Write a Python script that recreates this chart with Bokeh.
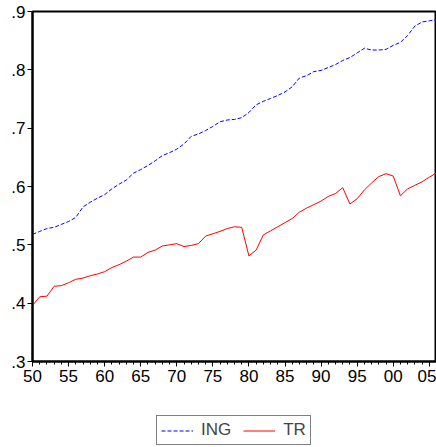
from bokeh.plotting import figure
from bokeh.models import FixedTicker, Legend, LegendItem, Range1d
from bokeh.layouts import column
from bokeh.embed import file_html
from bokeh.resources import INLINE

years = list(range(1950, 2007))
ing = [0.518, 0.523, 0.528, 0.530, 0.535, 0.540, 0.547, 0.565, 0.573, 0.580,
       0.586, 0.596, 0.604, 0.611, 0.623, 0.629, 0.636, 0.644, 0.653, 0.658,
       0.664, 0.673, 0.686, 0.690, 0.696, 0.703, 0.711, 0.714, 0.715, 0.718,
       0.727, 0.740, 0.746, 0.751, 0.756, 0.762, 0.771, 0.786, 0.790, 0.797,
       0.799, 0.804, 0.809, 0.816, 0.821, 0.829, 0.837, 0.834, 0.834, 0.835,
       0.842, 0.847, 0.859, 0.875, 0.882, 0.884, 0.886]
tr = [0.396, 0.411, 0.412, 0.429, 0.430, 0.435, 0.441, 0.443, 0.447, 0.450,
      0.454, 0.461, 0.466, 0.472, 0.479, 0.479, 0.487, 0.491, 0.498, 0.500,
      0.502, 0.497, 0.499, 0.502, 0.515, 0.519, 0.523, 0.528, 0.531, 0.530,
      0.481, 0.491, 0.517, 0.524, 0.531, 0.538, 0.545, 0.556, 0.563, 0.569,
      0.575, 0.583, 0.588, 0.598, 0.570, 0.579, 0.594, 0.606, 0.617, 0.622,
      0.618, 0.584, 0.596, 0.602, 0.608, 0.616, 0.623]
x_ticks = [1950, 1955, 1960, 1965, 1970, 1975, 1980, 1985, 1990, 1995, 2000, 2005]
x_tick_labels = ["50", "55", "60", "65", "70", "75", "80", "85", "90", "95", "00", "05"]
y_ticks = [0.3, 0.4, 0.5, 0.6, 0.7, 0.8, 0.9]
y_tick_labels = [".3", ".4", ".5", ".6", ".7", ".8", ".9"]
series_names = ["ING", "TR"]
series_values = [ing, tr]
series_colors = ["#0000ff", "#ff0000"]
series_dashes = ["4 2", "solid"]

FONT = "Liberation Sans"

p = figure(width=436, height=395, output_backend="svg", toolbar_location=None,
           x_range=Range1d(1950, 2006), y_range=Range1d(0.3, 0.9),
           min_border_left=32, min_border_right=0, min_border_top=11,
           min_border_bottom=34)
p.grid.visible = False
p.outline_line_color = "black"
p.outline_line_width = 2

for vals, col, dash in zip(series_values, series_colors, series_dashes):
    p.line(years, vals, line_color=col, line_width=1, line_dash=dash)

xa = p.xaxis[0]
xa.ticker = FixedTicker(ticks=x_ticks, minor_ticks=years)
xa.major_label_overrides = dict(zip(x_ticks, x_tick_labels))
ya = p.yaxis[0]
ya.ticker = FixedTicker(ticks=y_ticks, minor_ticks=[])
ya.major_label_overrides = dict(zip(y_ticks, y_tick_labels))

for ax in (xa, ya):
    ax.axis_line_width = 2
    ax.axis_line_color = "black"
    ax.major_tick_line_color = "black"
    ax.minor_tick_line_color = "black"
    ax.major_tick_in = 0
    ax.minor_tick_in = 0
    ax.major_label_text_font = FONT
    ax.major_label_text_font_size = "17px"
    ax.major_label_text_color = "black"
xa.major_tick_out = 5
xa.minor_tick_out = 3
xa.major_label_standoff = 3
ya.major_tick_out = 5
ya.minor_tick_out = 0
ya.major_label_standoff = 2

# legend panel below the chart (series drawn again but outside its view)
lf = figure(width=436, height=52, output_backend="svg", toolbar_location=None,
            x_range=Range1d(0, 1), y_range=Range1d(0, 1),
            min_border_left=32, min_border_right=0, min_border_top=0,
            min_border_bottom=0)
lf.axis.visible = False
lf.grid.visible = False
lf.outline_line_color = None
items = []
for name, vals, col, dash in zip(series_names, series_values, series_colors, series_dashes):
    rr = lf.line(years, vals, line_color=col, line_width=1, line_dash=dash)
    items.append(LegendItem(label=name, renderers=[rr]))

legend = Legend(items=items, orientation="horizontal", location=(124, 2),
                border_line_color="black", border_line_width=1,
                padding=4, spacing=12, margin=0, label_standoff=8,
                glyph_width=32, glyph_height=17, label_height=17,
                label_text_font=FONT, label_text_font_size="17px",
                background_fill_alpha=1)
lf.add_layout(legend, "center")

layout = column(p, lf, spacing=0)
open("out.html", "w").write(file_html(layout, INLINE))
